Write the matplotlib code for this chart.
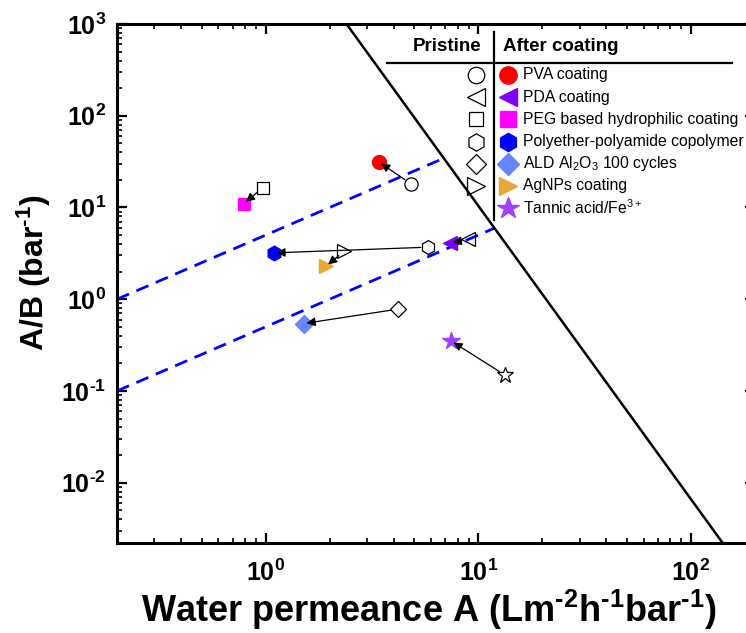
import numpy as np
import matplotlib.pyplot as plt
from matplotlib.ticker import LogLocator, FuncFormatter, NullFormatter

plt.rcParams['font.family'] = 'Liberation Sans'
plt.rcParams['mathtext.fontset'] = 'custom'
plt.rcParams['mathtext.rm'] = 'Liberation Sans:bold'
plt.rcParams['mathtext.sf'] = 'Liberation Sans'
plt.rcParams['mathtext.it'] = 'Liberation Sans:italic'

coatings = ["PVA coating", "PDA coating", "PEG based hydrophilic coating",
            "Polyether-polyamide copolymer", r"ALD $\mathsf{Al_{2}O_{3}}$ 100 cycles",
            "AgNPs coating", r"Tannic acid/$\mathsf{Fe^{3+}}$"]
markers = ["o", "<", "s", "h", "D", ">", "*"]
colors = ["#ff0000", "#7f00ff", "#ff00ff", "#0000ff", "#6685ff", "#e8a838", "#a040ff"]
# no pristine symbol is listed for the tannic acid entry
legend_open = [True, True, True, True, True, True, False]

# pristine membranes
A_pristine = [4.81, 8.97, 0.97, 5.78, 4.20, 2.34, 13.4]
AB_pristine = [18.2, 4.48, 16.5, 3.69, 0.78, 3.33, 0.148]
# after coating
A_coated = [3.40, 7.36, 0.79, 1.09, 1.51, 1.92, 7.44]
AB_coated = [31.4, 4.08, 11.0, 3.20, 0.543, 2.29, 0.351]

# upper bound line (end points)
bound_A = [2.40, 141.0]
bound_AB = [1000.0, 0.0022]
# A/B = k*A reference lines
ref_k = [5.0, 0.5]

ms_open = [9.5, 10, 8, 10, 8.5, 10, 12]
ms_fill = [10, 10, 9, 10.5, 9, 10, 13]

fig = plt.figure(figsize=(7.46, 6.33), dpi=100)
ax = fig.add_axes([117/746, 90/633, 638/746, 519/633])
ax.set_xscale('log')
ax.set_yscale('log')
ax.set_xlim(0.2, 200)
ax.set_ylim(0.0022, 1000)

# reference lines stop where they meet the upper bound
s = (np.log10(bound_AB[1]) - np.log10(bound_AB[0])) / (np.log10(bound_A[1]) - np.log10(bound_A[0]))
c = np.log10(bound_AB[0]) - s * np.log10(bound_A[0])
for k in ref_k:
    x_end = 10 ** ((c - np.log10(k)) / (1 - s))
    xs = np.array([0.2, x_end])
    ax.plot(xs, k * xs, color='#0000ff', lw=2, linestyle=(0, (4.7, 2.9)), zorder=2)

ax.plot(bound_A, bound_AB, color='k', lw=1.8, zorder=2)

for i in range(len(coatings)):
    ax.plot(A_pristine[i], AB_pristine[i], marker=markers[i], ms=ms_open[i],
            mfc='none', mec='k', mew=0.9, ls='none', zorder=3)
    ax.plot(A_coated[i], AB_coated[i], marker=markers[i], ms=ms_fill[i],
            color=colors[i], mec=colors[i], ls='none', zorder=3)
    ax.annotate('', xy=(A_coated[i], AB_coated[i]), xytext=(A_pristine[i], AB_pristine[i]),
                arrowprops=dict(arrowstyle='-|>', color='k', lw=0.9, shrinkA=5, shrinkB=2,
                                mutation_scale=13), zorder=5)

# table-style legend
ax.text(0.518, 0.956, 'Pristine', transform=ax.transAxes, ha='center', va='center',
        fontsize=13.5, fontweight='bold')
ax.text(0.605, 0.956, 'After coating', transform=ax.transAxes, ha='left', va='center',
        fontsize=13.5, fontweight='bold')
ax.plot([0.5914, 0.5914], [0.622, 0.985], color='k', lw=1.6, transform=ax.transAxes, clip_on=False)
ax.plot([0.4227, 0.9635], [0.925, 0.925], color='k', lw=1.6, transform=ax.transAxes, clip_on=False)
for i in range(len(coatings)):
    y = 0.902 - i * 0.0428
    if legend_open[i]:
        ax.plot(0.5627, y, marker=markers[i], ms=ms_open[i] * 1.25, mfc='none', mec='k', mew=0.9,
                transform=ax.transAxes, clip_on=False)
    ax.plot(0.6129, y, marker=markers[i], ms=ms_fill[i] * 1.25, color=colors[i], mec=colors[i],
            transform=ax.transAxes, clip_on=False)
    ax.text(0.6364, y, coatings[i], transform=ax.transAxes, ha='left', va='center', fontsize=11.3)


def decade_label(v, pos):
    n = int(round(np.log10(v)))
    if n < 0:
        return r'$10^{\text{-}%d}$' % -n
    return r'$10^{%d}$' % n


fmt = FuncFormatter(decade_label)
for axis in (ax.xaxis, ax.yaxis):
    axis.set_major_locator(LogLocator(base=10, numticks=20))
    axis.set_minor_locator(LogLocator(base=10, subs=np.arange(2, 10), numticks=20))
    axis.set_major_formatter(fmt)
    axis.set_minor_formatter(NullFormatter())

ax.tick_params(which='both', direction='in', top=True, right=True)
ax.tick_params(which='major', length=7, width=1.6, labelsize=18)
ax.tick_params(axis='y', which='major', pad=8)
ax.tick_params(axis='x', which='major', pad=12)
ax.tick_params(which='minor', length=3.5, width=1.2)
for sp in ax.spines.values():
    sp.set_linewidth(2.2)

ax.set_xlabel(r'Water permeance A (Lm$^{\text{-}2}$h$^{\text{-}1}$bar$^{\text{-}1}$)',
              fontsize=26, fontweight='bold')
ax.xaxis.set_label_coords(0.489, -0.087)
ax.set_ylabel(r'A/B (bar$^{\text{-}1}$)', fontsize=23, fontweight='bold')
ax.yaxis.set_label_coords(-0.100, 0.520)

fig.savefig('out.png', dpi=100)
